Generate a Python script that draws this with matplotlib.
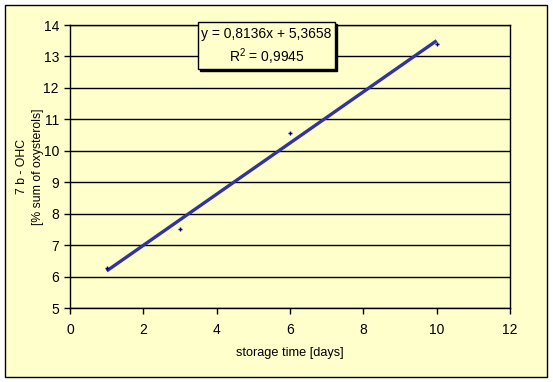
import matplotlib.pyplot as plt
from matplotlib.patches import Rectangle
import numpy as np

plt.rcParams['font.family'] = ['Liberation Sans', 'DejaVu Sans']

days = [1, 3, 6, 10]
ohc = [6.27, 7.52, 10.57, 13.38]
# trendline as printed in the chart
slope = 0.8136
intercept = 5.3658
r2 = 0.9945

bg = '#FFFFCC'
W, H = 553, 382
fig = plt.figure(figsize=(W / 100, H / 100), dpi=100, facecolor='white')

# outer chart frame
fig.patches.append(Rectangle((5 / W, 5 / H), 542 / W, 372 / H, transform=fig.transFigure,
                             facecolor=bg, edgecolor='black', linewidth=1, zorder=-10))

ax = fig.add_axes([70 / W, (H - 308) / H, 440 / W, 283 / H])
ax.set_facecolor(bg)

ax.set_xlim(0, 12)
ax.set_ylim(5, 14)
ax.set_xticks(range(0, 13, 2))
ax.set_yticks(range(5, 15))
ax.yaxis.grid(True, color='black', linewidth=1)
ax.set_axisbelow(True)
for s in ax.spines.values():
    s.set_linewidth(1)
    s.set_color('black')
ax.tick_params(direction='out', length=4, width=1, labelsize=10, colors='black')
ax.tick_params(axis='x', pad=7)
ax.tick_params(axis='y', pad=4)

# trendline
xl = np.array([min(days), max(days)])
ax.plot(xl, slope * xl + intercept, color='#3333a0', linewidth=2.4, solid_capstyle='butt', zorder=3)
ax.plot(days, ohc, linestyle='none', marker='+', markersize=3, markeredgewidth=1,
        color='#000080', zorder=4)

ax.set_xlabel('storage time [days]', fontsize=9.2, labelpad=7)
ax.set_ylabel('7 b - OHC\n[% sum of oxysterols]', fontsize=8.8, linespacing=1.35,
              va='center', ha='center')
ax.yaxis.set_label_coords(-0.091, 0.5)

# equation box with shadow
bx, by, bw, bh = 198 / W, (H - 69) / H, 137 / W, 47 / H
fig.patches.append(Rectangle((bx + 2 / W, by - 2 / H), bw, bh, transform=fig.transFigure,
                             facecolor='black', edgecolor='black', zorder=5))
fig.patches.append(Rectangle((bx, by), bw, bh, transform=fig.transFigure,
                             facecolor=bg, edgecolor='black', linewidth=1, zorder=6))
eq = 'y = {}x + {}'.format(str(slope).replace('.', ','), str(intercept).replace('.', ','))
rr = '$\\mathregular{R^2}$' + ' = {}'.format(str(r2).replace('.', ','))
fig.text(bx + bw / 2, by + bh * 0.745, eq, ha='center', va='center', fontsize=10, zorder=7)
fig.text(bx + bw / 2, by + bh * 0.255, rr, ha='center', va='center', fontsize=10, zorder=7)

fig.savefig('out.png', dpi=100, facecolor='white')
